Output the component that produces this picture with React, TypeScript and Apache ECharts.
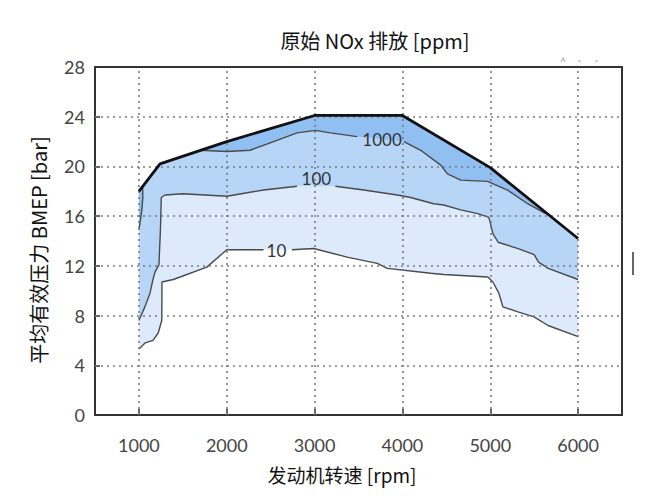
import React, { useEffect, useRef } from "react";
import * as echarts from "echarts";

// ---------- data ----------
const xTicks = [1000, 2000, 3000, 4000, 5000, 6000];
const yTicks = [4, 8, 12, 16, 20, 24];

// full-load curve (upper boundary)
const fullLoad: number[][] = [
  [1000, 18.0], [1240, 20.2], [2000, 22.0], [3000, 24.1], [4000, 24.1], [5000, 19.9], [6000, 14.2],
];

// 1000 ppm contour (two pieces either side of the label) + left sliver
const c1000A: number[][] = [
  [1700, 21.3], [2000, 21.2], [2267, 21.3], [2533, 22.0], [2800, 22.7], [3009, 22.9], [3180, 22.7], [3485, 22.4],
];
const c1000B: number[][] = [
  [4017, 22.0], [4208, 21.3], [4436, 20.1], [4513, 19.4], [4664, 18.9], [4969, 18.8], [5197, 18.1], [5426, 17.0], [5630, 16.2],
];
const c1000Left: number[][] = [
  [1000, 14.9], [1020, 15.8], [1035, 16.6], [1045, 17.6], [1042, 18.3],
];

// 100 ppm contour
const c100A: number[][] = [
  [1000, 7.6], [1068, 8.7], [1126, 9.8], [1160, 10.9], [1183, 11.5], [1228, 12.1], [1245, 14.9], [1255, 17.5],
  [1297, 17.7], [1500, 17.8], [2000, 17.6], [2419, 18.1], [2800, 18.4],
];
const c100B: number[][] = [
  [3237, 18.4], [3560, 18.1], [3942, 17.7], [4094, 17.5], [4356, 17.0], [4470, 16.9], [4664, 16.5], [4858, 16.2],
  [4984, 15.9], [5010, 15.2], [5030, 14.6], [5090, 13.9], [5310, 13.4], [5500, 12.9], [5550, 12.3], [5660, 11.8], [6000, 10.9],
];

// 10 ppm contour
const c10A: number[][] = [
  [1000, 5.3], [1070, 5.8], [1160, 6.0], [1220, 6.6], [1260, 7.6], [1262, 9.5], [1262, 10.7], [1392, 10.9],
  [1773, 11.9], [2001, 13.3], [2419, 13.3],
];
const c10B: number[][] = [
  [2743, 13.3], [2990, 13.4], [3371, 12.7], [3713, 12.2], [3827, 11.8], [4322, 11.4], [4470, 11.3], [4972, 11.1],
  [5030, 10.7], [5098, 9.8], [5144, 8.7], [5315, 8.3], [5498, 7.9], [5658, 7.2], [6000, 6.3],
];

const labelTexts = ["10", "100", "1000"];
const labelX = [2565, 3020, 3768];
const labelY = [13.2, 19.0, 22.2];

// ---------- styles ----------
const LIGHT = "#dceafb";
const MEDIUM = "#b7d5f7";
const DARK = "#92bff2";
const CJK = '"Noto Sans CJK SC", "Noto Sans", sans-serif';
const NUM = 'Lato, "Noto Sans", sans-serif';

export default function App() {
  const ref = useRef<HTMLDivElement>(null);

  useEffect(() => {
    document.body.style.margin = "0";
    if (!ref.current) return;
    const chart = echarts.init(ref.current, undefined, { renderer: "svg" });

    const revFull = [...fullLoad].reverse();
    const first1000 = c1000A[0][0];
    const last1000 = c1000B[c1000B.length - 1][0];
    const regionPts: number[][][] = [
      [...c10A, ...c10B, ...revFull],
      [...c100A, ...c100B, ...revFull],
      [...c1000A, ...c1000B, ...revFull.filter((p) => p[0] > first1000 && p[0] < last1000)],
      [...c1000Left, fullLoad[0]],
    ];
    const regionFill = [LIGHT, MEDIUM, DARK, DARK];

    const contourLine = (data: number[][], z = 4) => ({
      type: "line",
      data,
      showSymbol: false,
      symbol: "none",
      z,
      lineStyle: { color: "#4a4a4a", width: 1.4 },
      silent: true,
    });

    chart.setOption({
      animation: false,
      grid: {
        left: 95, right: 28, top: 67, bottom: 85,
        show: true, borderColor: "#333", borderWidth: 2, backgroundColor: "transparent",
      },
      xAxis: {
        type: "value", min: 500, max: 6500, interval: 500,
        axisLine: { lineStyle: { color: "#333", width: 2 } },
        axisTick: { show: true, inside: true, length: 6, customValues: xTicks, lineStyle: { color: "#333", width: 1.5 } },
        axisLabel: {
          customValues: xTicks,
          formatter: (v: number) => (v % 1000 === 0 && v >= 1000 && v <= 6000 ? String(v) : ""),
          fontSize: 18, color: "#444", margin: 21, fontFamily: NUM,
        },
        splitLine: { show: false },
      },
      yAxis: {
        type: "value", min: 0, max: 28, interval: 4,
        axisLine: { lineStyle: { color: "#333", width: 2 } },
        axisTick: { show: true, inside: true, length: 5, lineStyle: { color: "#333", width: 1.5 } },
        axisLabel: { fontSize: 18, color: "#444", margin: 10, fontFamily: NUM },
        splitLine: { show: false },
      },
      graphic: [
        {
          type: "text", x: 375, y: 40,
          style: { text: "原始 NOx 排放 [ppm]", font: `20px ${CJK}`, fill: "#111", textAlign: "center", textVerticalAlign: "middle" },
        },
        {
          type: "text", x: 342, y: 474,
          style: { text: "发动机转速 [rpm]", font: `19px ${CJK}`, fill: "#111", textAlign: "center", textVerticalAlign: "middle" },
        },
        {
          type: "text", x: 38, y: 250, rotation: Math.PI / 2,
          style: { text: "平均有效压力 BMEP [bar]", font: `20px ${CJK}`, fill: "#111", textAlign: "center", textVerticalAlign: "middle" },
        },
        {
          type: "text", x: 563, y: 61,
          style: { text: "^", font: `11px ${NUM}`, fill: "#999", textAlign: "center", textVerticalAlign: "middle" },
        },
        {
          type: "text", x: 588, y: 60,
          style: { text: "·     ·", font: `11px ${NUM}`, fill: "#aaa", textAlign: "center", textVerticalAlign: "middle" },
        },
        {
          type: "line", shape: { x1: 633, y1: 252, x2: 633, y2: 275 },
          style: { stroke: "#333", lineWidth: 1.5 },
        },
      ],
      series: [
        {
          type: "custom",
          z: 1,
          silent: true,
          data: regionPts.map((_, i) => [i]),
          renderItem: (params: any, api: any) => {
            const pts = regionPts[params.dataIndex].map((p) => api.coord(p));
            return { type: "polygon", shape: { points: pts }, style: { fill: regionFill[params.dataIndex] } };
          },
        },
        {
          type: "line",
          data: [],
          z: 3,
          silent: true,
          markLine: {
            silent: true,
            symbol: ["none", "none"],
            label: { show: false },
            lineStyle: { color: "#7a7a7a", type: [2, 4], width: 1.6 },
            data: [...xTicks.map((x) => ({ xAxis: x })), ...yTicks.map((y) => ({ yAxis: y }))],
          },
        },
        contourLine(c10A),
        contourLine(c10B),
        contourLine(c100A),
        contourLine(c100B),
        contourLine(c1000A),
        contourLine(c1000B),
        contourLine(c1000Left),
        {
          type: "line",
          data: fullLoad,
          showSymbol: false,
          symbol: "none",
          z: 5,
          silent: true,
          lineStyle: { color: "#111", width: 2.8 },
        },
        {
          type: "custom",
          z: 6,
          silent: true,
          data: labelTexts.map((_, i) => [labelX[i], labelY[i]]),
          renderItem: (params: any, api: any) => {
            const i = params.dataIndex;
            const p = api.coord([labelX[i], labelY[i]]);
            return {
              type: "text",
              x: p[0], y: p[1],
              style: {
                text: labelTexts[i], font: `17px ${NUM}`, fill: "#333",
                textAlign: "center", textVerticalAlign: "middle",
              },
            };
          },
        },
      ],
    });

    return () => chart.dispose();
  }, []);

  return <div ref={ref} style={{ width: 650, height: 500 }} />;
}
